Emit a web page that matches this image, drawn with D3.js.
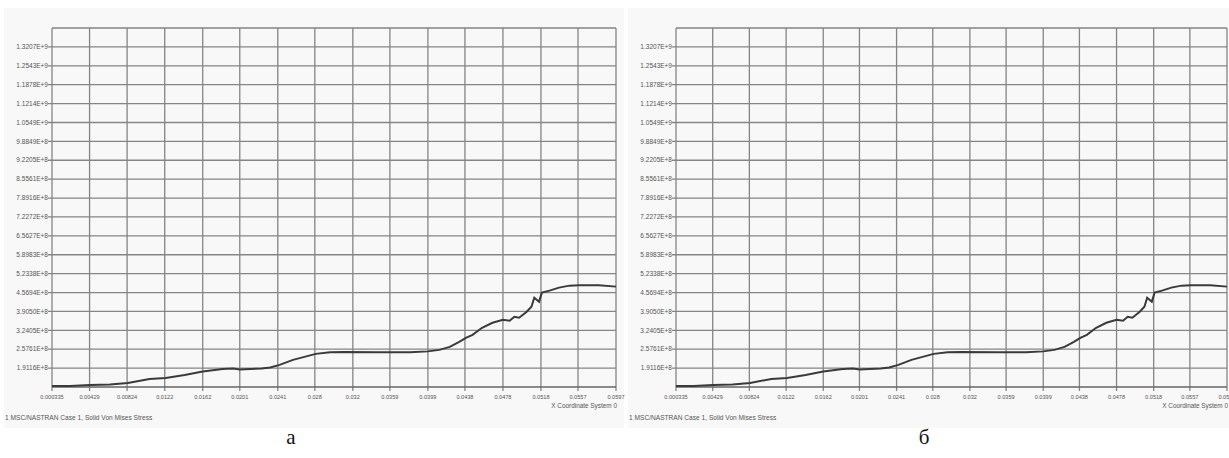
<!DOCTYPE html>
<html lang="en">
<head>
<meta charset="utf-8" />
<title>Von Mises stress</title>
<script src="https://cdnjs.cloudflare.com/ajax/libs/d3/7.8.5/d3.min.js"></script>
<style>
    body { margin: 0; background: #fff; }
    svg text { font-family: "Liberation Sans", Arial, sans-serif; }
    svg text.caption { font-family: "Liberation Serif", "Times New Roman", serif; }
</style>
</head>
<body>
<div id="vis"></div>
<script type="text/javascript">
    // x coordinate along path / solid von mises stress
    var xTicks = [0.000335, 0.00429, 0.00824, 0.0122, 0.0162, 0.0201, 0.0241, 0.028, 0.032, 0.0359, 0.0399, 0.0438, 0.0478, 0.0518, 0.0557, 0.0597];
    var xTickLabels = ["0.000335", "0.00429", "0.00824", "0.0122", "0.0162", "0.0201", "0.0241", "0.028", "0.032", "0.0359", "0.0399", "0.0438", "0.0478", "0.0518", "0.0557", "0.0597"];
    var yTicks = [1.9116e8, 2.5761e8, 3.2405e8, 3.9050e8, 4.5694e8, 5.2338e8, 5.8983e8, 6.5627e8, 7.2272e8, 7.8916e8, 8.5561e8, 9.2205e8, 9.8849e8, 1.0549e9, 1.1214e9, 1.1878e9, 1.2543e9, 1.3207e9];
    var yTickLabels = ["1.9116E+8", "2.5761E+8", "3.2405E+8", "3.9050E+8", "4.5694E+8", "5.2338E+8", "5.8983E+8", "6.5627E+8", "7.2272E+8", "7.8916E+8", "8.5561E+8", "9.2205E+8", "9.8849E+8", "1.0549E+9", "1.1214E+9", "1.1878E+9", "1.2543E+9", "1.3207E+9"];
    var yDomain = [1.2472e8, 1.3872e9];

    var coordX = [0.000335, 0.00223, 0.00433, 0.00643, 0.00832, 0.0106, 0.0123, 0.0143, 0.0162, 0.0183, 0.0194, 0.0201, 0.0212, 0.0224, 0.0233, 0.0243, 0.0257, 0.0269, 0.0281, 0.0296, 0.0311, 0.0348, 0.0380, 0.0399,
        0.0411, 0.0422, 0.0432, 0.0439, 0.0446, 0.0456, 0.0467, 0.0478, 0.0485, 0.0490, 0.0495, 0.0503, 0.0508, 0.0511, 0.0516, 0.0519, 0.0527, 0.0537, 0.0548, 0.0558, 0.0579, 0.0597];
    var stressA = [1.282e8, 1.28e8, 1.318e8, 1.335e8, 1.388e8, 1.53e8, 1.565e8, 1.67e8, 1.795e8, 1.88e8, 1.90e8, 1.865e8, 1.88e8, 1.90e8, 1.935e8, 2.024e8, 2.20e8, 2.306e8, 2.412e8, 2.465e8, 2.48e8, 2.465e8, 2.465e8, 2.50e8,
        2.553e8, 2.659e8, 2.836e8, 2.977e8, 3.083e8, 3.33e8, 3.506e8, 3.612e8, 3.577e8, 3.718e8, 3.683e8, 3.895e8, 4.071e8, 4.389e8, 4.248e8, 4.566e8, 4.636e8, 4.742e8, 4.812e8, 4.823e8, 4.823e8, 4.777e8];
    var stressB = [1.282e8, 1.28e8, 1.318e8, 1.335e8, 1.388e8, 1.53e8, 1.565e8, 1.67e8, 1.795e8, 1.88e8, 1.90e8, 1.865e8, 1.88e8, 1.90e8, 1.935e8, 2.024e8, 2.20e8, 2.306e8, 2.412e8, 2.465e8, 2.48e8, 2.465e8, 2.465e8, 2.50e8,
        2.553e8, 2.659e8, 2.836e8, 2.977e8, 3.083e8, 3.33e8, 3.506e8, 3.612e8, 3.577e8, 3.718e8, 3.683e8, 3.895e8, 4.071e8, 4.389e8, 4.248e8, 4.566e8, 4.636e8, 4.742e8, 4.812e8, 4.823e8, 4.823e8, 4.777e8];

    var width = 1229, height = 458;
    var plotTop = 28, plotBottom = 387;

    var svg = d3.select("#vis").append("svg")
        .attr("width", width)
        .attr("height", height);

    var panels = [
        { bgX: 4, bgW: 620, left: 52, right: 616, label: "а", labelX: 291, values: stressA },
        { bgX: 628, bgW: 601, left: 676, right: 1227, label: "б", labelX: 924, values: stressB }
    ];

    panels.forEach(function (p) {
        var g = svg.append("g");

        g.append("rect")
            .attr("x", p.bgX).attr("y", 8)
            .attr("width", p.bgW).attr("height", 420)
            .attr("fill", "#f8f8f8");

        var x = d3.scaleLinear().domain([xTicks[0], xTicks[xTicks.length - 1]]).range([p.left, p.right]);
        var y = d3.scaleLinear().domain(yDomain).range([plotBottom, plotTop]);

        // grid: horizontal at each y tick + top frame
        g.selectAll("line.hgrid")
            .data(yTicks)
            .enter().append("line")
            .attr("x1", p.left - 4).attr("x2", p.right)
            .attr("y1", function (d) { return y(d); })
            .attr("y2", function (d) { return y(d); })
            .attr("stroke", "#858585").attr("stroke-width", 1.3);

        g.append("line")
            .attr("x1", p.left).attr("x2", p.right)
            .attr("y1", y(yDomain[1])).attr("y2", y(yDomain[1]))
            .attr("stroke", "#858585").attr("stroke-width", 1.3);

        g.selectAll("line.vgrid")
            .data(xTicks)
            .enter().append("line")
            .attr("x1", function (d) { return x(d); })
            .attr("x2", function (d) { return x(d); })
            .attr("y1", plotTop).attr("y2", plotBottom + 4)
            .attr("stroke", "#858585").attr("stroke-width", 1.3);

        g.append("line")
            .attr("x1", p.left).attr("x2", p.right)
            .attr("y1", plotBottom).attr("y2", plotBottom)
            .attr("stroke", "#666").attr("stroke-width", 1.4);

        g.selectAll("text.ylab")
            .data(yTicks)
            .enter().append("text")
            .attr("x", p.left - 4)
            .attr("y", function (d) { return y(d) + 2.2; })
            .attr("text-anchor", "end")
            .attr("font-size", "6.5px")
            .attr("fill", "#555")
            .text(function (d, i) { return yTickLabels[i]; });

        g.selectAll("text.xlab")
            .data(xTicks)
            .enter().append("text")
            .attr("x", function (d) { return x(d); })
            .attr("y", 399)
            .attr("text-anchor", "middle")
            .attr("font-size", "5.6px")
            .attr("fill", "#555")
            .text(function (d, i) { return xTickLabels[i]; });

        g.append("text")
            .attr("x", p.right + 1).attr("y", 408)
            .attr("text-anchor", "end")
            .attr("font-size", "6.4px")
            .attr("fill", "#555")
            .text("X Coordinate System 0");

        g.append("text")
            .attr("x", p.bgX + 1).attr("y", 420)
            .attr("font-size", "6.6px")
            .attr("fill", "#555")
            .text("1 MSC/NASTRAN Case 1, Solid Von Mises Stress");

        var line = d3.line()
            .x(function (d, i) { return x(coordX[i]); })
            .y(function (d) { return y(d); });

        g.append("path")
            .datum(p.values)
            .attr("d", line)
            .attr("fill", "none")
            .attr("stroke", "#3a3a3a")
            .attr("stroke-width", 2);

        svg.append("text")
            .attr("class", "caption")
            .attr("x", p.labelX).attr("y", 444)
            .attr("text-anchor", "middle")
            .attr("font-size", "21px")
            .attr("fill", "#111")
            .text(p.label);
    });
</script>
</body>
</html>
